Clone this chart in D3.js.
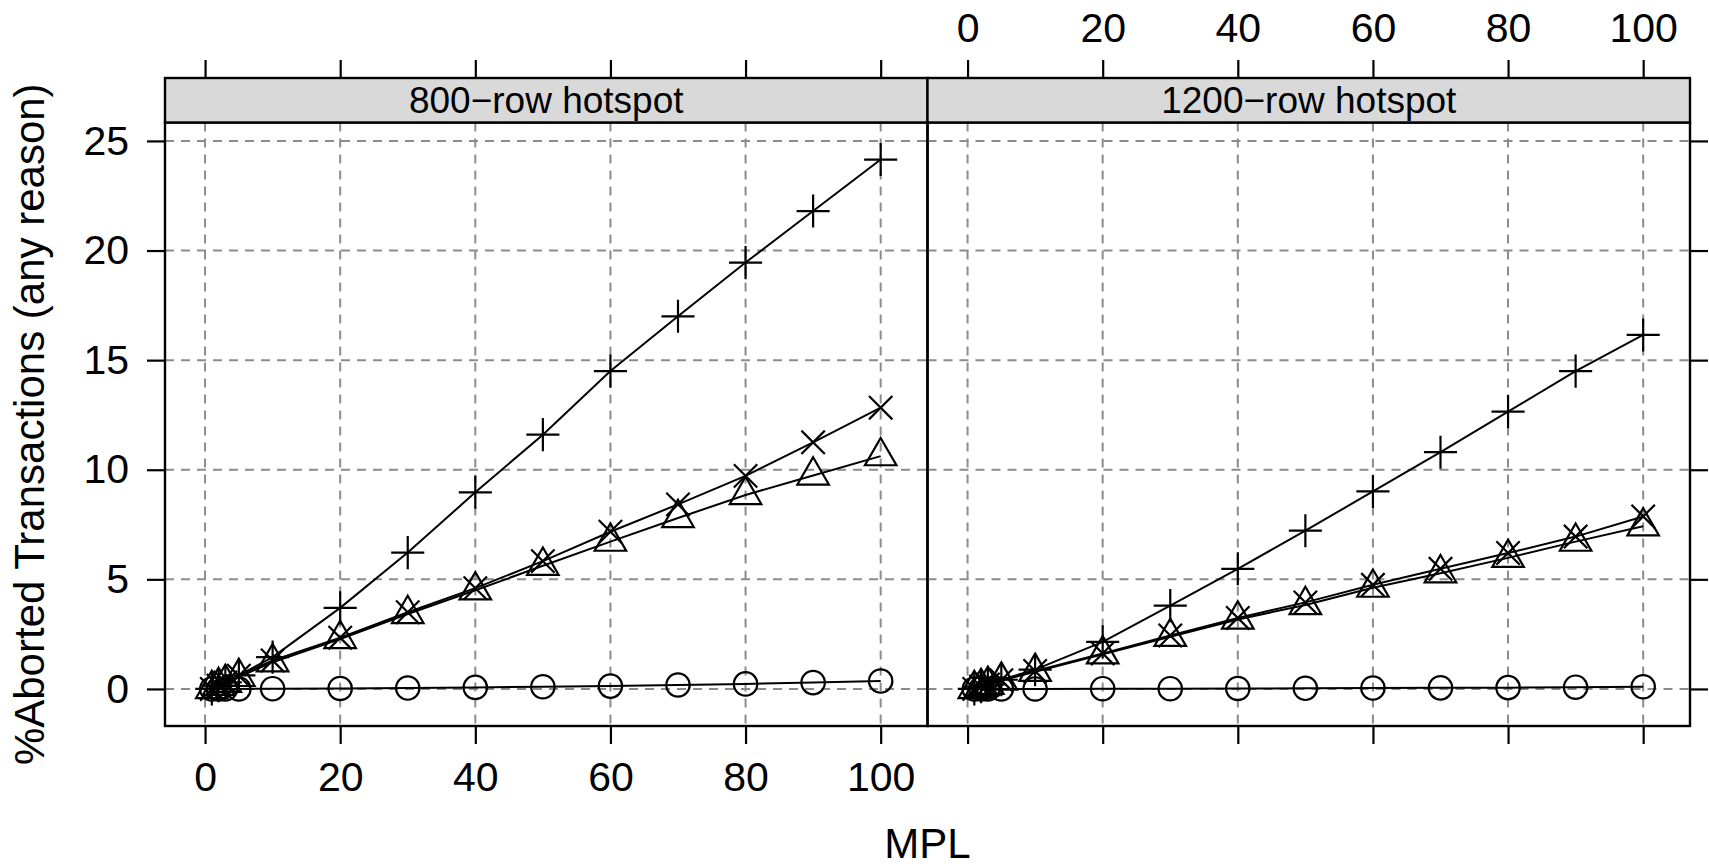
<!DOCTYPE html>
<html lang="en">
<head>
    <meta charset="UTF-8">
    <title>Aborted transactions by MPL</title>
    <script src="https://d3js.org/d3.v7.min.js"></script>
    <style>
        body {
            margin: 0;
            padding: 0;
            background-color: #fff;
            font-family: "Liberation Sans", Arial, Helvetica, sans-serif;
        }
        svg text {
            font-family: "Liberation Sans", Arial, Helvetica, sans-serif;
            fill: #000;
        }
        .grid line {
            stroke: #8c8c8c;
            stroke-width: 2;
            stroke-dasharray: 9 7;
        }
        .axis line {
            stroke: #000;
            stroke-width: 2.2;
        }
        .axis text {
            font-size: 41px;
        }
    </style>
</head>
<body>
    <div id="chart"></div>
    <script>
        // MPL values (x) shared by all series
        const mpl = [1, 2, 3, 5, 10, 20, 30, 40, 50, 60, 70, 80, 90, 100];

        // panel (strip) labels
        const panelNames = ["800\u2212row hotspot", "1200\u2212row hotspot"];

        // tick labels
        const xTicks = [0, 20, 40, 60, 80, 100];
        const yTicks = [0, 5, 10, 15, 20, 25];

        // % aborted transactions, 800-row hotspot
        const circle800 = [0, 0, 0, 0, 0.01, 0.02, 0.04, 0.07, 0.1, 0.13, 0.18, 0.23, 0.29, 0.36];
        const triangle800 = [0, 0.14, 0.28, 0.55, 1.22, 2.28, 3.42, 4.5, 5.62, 6.72, 7.8, 8.85, 9.74, 10.62];
        const plus800 = [0, 0.15, 0.3, 0.62, 1.45, 3.7, 6.22, 8.97, 11.6, 14.5, 17.0, 19.45, 21.8, 24.15];
        const cross800 = [0, 0.15, 0.3, 0.6, 1.3, 2.34, 3.5, 4.6, 5.83, 7.17, 8.42, 9.72, 11.25, 12.83];

        // % aborted transactions, 1200-row hotspot
        const circle1200 = [0, 0, 0, 0, 0, 0.01, 0.01, 0.02, 0.03, 0.04, 0.05, 0.06, 0.08, 0.1];
        const triangle1200 = [0, 0.09, 0.19, 0.38, 0.78, 1.58, 2.38, 3.17, 3.83, 4.62, 5.28, 5.98, 6.72, 7.42];
        const plus1200 = [0, 0.1, 0.2, 0.42, 0.88, 2.15, 3.8, 5.48, 7.22, 9.01, 10.8, 12.65, 14.5, 16.15];
        const cross1200 = [0, 0.1, 0.2, 0.4, 0.82, 1.62, 2.44, 3.24, 3.95, 4.75, 5.48, 6.2, 6.95, 7.87];

        const panelSeries = [
            [{sym: "circle", v: circle800}, {sym: "triangle", v: triangle800}, {sym: "plus", v: plus800}, {sym: "cross", v: cross800}],
            [{sym: "circle", v: circle1200}, {sym: "triangle", v: triangle1200}, {sym: "plus", v: plus1200}, {sym: "cross", v: cross1200}]
        ];

        // layout
        const W = 1709, H = 866;
        const left = 165, right = 1690;
        const stripTop = 78, stripBottom = 122.5, bottom = 726;
        const panelW = (right - left) / 2;
        const tickLen = 18, tickPad = 18;

        // lattice-style 7% padding of the data range
        function padded(ext) {
            const d = (ext[1] - ext[0]) * 0.07;
            return [ext[0] - d, ext[1] + d];
        }
        const allY = panelSeries.flat().flatMap(s => s.v);

        const y = d3.scaleLinear()
            .domain(padded(d3.extent(allY)))
            .range([bottom, stripBottom]);

        const xs = panelNames.map((n, i) => d3.scaleLinear()
            .domain(padded(d3.extent(mpl)))
            .range([left + i * panelW, left + (i + 1) * panelW]));

        const svg = d3.select("#chart").append("svg")
            .attr("width", W)
            .attr("height", H);

        // symbol paths (R pch 1, 2, 3, 4)
        const base = 11.7;
        function symbolPath(sym, cx, cy) {
            const p = d3.path();
            if (sym === "circle") {
                p.moveTo(cx + base, cy);
                p.arc(cx, cy, base, 0, 2 * Math.PI);
            } else if (sym === "triangle") {
                const r = 1.5551 * base, yc = 0.7776 * base, xc = 1.3468 * base;
                p.moveTo(cx, cy - r);
                p.lineTo(cx + xc, cy + yc);
                p.lineTo(cx - xc, cy + yc);
                p.closePath();
            } else if (sym === "plus") {
                const a = Math.SQRT2 * base;
                p.moveTo(cx - a, cy); p.lineTo(cx + a, cy);
                p.moveTo(cx, cy - a); p.lineTo(cx, cy + a);
            } else {
                p.moveTo(cx - base, cy - base); p.lineTo(cx + base, cy + base);
                p.moveTo(cx - base, cy + base); p.lineTo(cx + base, cy - base);
            }
            return p.toString();
        }

        panelNames.forEach((name, i) => {
            const x = xs[i];
            const x0 = left + i * panelW;
            const g = svg.append("g");

            // grid
            const grid = g.append("g").attr("class", "grid");
            grid.selectAll("line.v")
                .data(xTicks)
                .enter().append("line")
                .attr("x1", d => x(d)).attr("x2", d => x(d))
                .attr("y1", stripBottom).attr("y2", bottom);
            grid.selectAll("line.h")
                .data(yTicks)
                .enter().append("line")
                .attr("class", "h")
                .attr("x1", x0).attr("x2", x0 + panelW)
                .attr("y1", d => y(d)).attr("y2", d => y(d));

            // series lines and points
            const line = d3.line()
                .x((d, j) => x(mpl[j]))
                .y(d => y(d));
            panelSeries[i].forEach(s => {
                g.append("path")
                    .attr("d", line(s.v))
                    .attr("fill", "none")
                    .attr("stroke", "#000")
                    .attr("stroke-width", 2);
                g.selectAll(null)
                    .data(s.v)
                    .enter().append("path")
                    .attr("d", (d, j) => symbolPath(s.sym, x(mpl[j]), y(d)))
                    .attr("fill", "none")
                    .attr("stroke", "#000")
                    .attr("stroke-width", 2.2);
            });

            // panel border
            g.append("rect")
                .attr("x", x0).attr("y", stripBottom)
                .attr("width", panelW).attr("height", bottom - stripBottom)
                .attr("fill", "none").attr("stroke", "#000").attr("stroke-width", 2.4);

            // strip
            g.append("rect")
                .attr("x", x0).attr("y", stripTop)
                .attr("width", panelW).attr("height", stripBottom - stripTop)
                .attr("fill", "#d9d9d9").attr("stroke", "#000").attr("stroke-width", 2.4);
            g.append("text")
                .attr("x", x0 + panelW / 2)
                .attr("y", (stripTop + stripBottom) / 2 + 13)
                .attr("text-anchor", "middle")
                .attr("font-size", 37)
                .text(name);

            // x axes: labels at the bottom of the left panel, at the top of the right one
            const top = d3.axisTop(x).tickValues(xTicks).tickSize(tickLen).tickPadding(tickPad)
                .tickFormat(i === 1 ? d3.format("d") : () => "");
            const bot = d3.axisBottom(x).tickValues(xTicks).tickSize(tickLen).tickPadding(tickPad)
                .tickFormat(i === 0 ? d3.format("d") : () => "");
            g.append("g").attr("class", "axis")
                .attr("transform", `translate(0,${stripTop})`)
                .call(top)
                .call(a => a.select(".domain").remove());
            g.append("g").attr("class", "axis")
                .attr("transform", `translate(0,${bottom})`)
                .call(bot)
                .call(a => a.select(".domain").remove());
        });

        // y axes: labels left, ticks only on the right
        svg.append("g").attr("class", "axis")
            .attr("transform", `translate(${left},0)`)
            .call(d3.axisLeft(y).tickValues(yTicks).tickSize(tickLen).tickPadding(tickPad))
            .call(a => a.select(".domain").remove());
        svg.append("g").attr("class", "axis")
            .attr("transform", `translate(${right},0)`)
            .call(d3.axisRight(y).tickValues(yTicks).tickSize(tickLen).tickFormat(() => ""))
            .call(a => a.select(".domain").remove());

        // axis titles
        svg.append("text")
            .attr("x", (left + right) / 2)
            .attr("y", 858)
            .attr("text-anchor", "middle")
            .attr("font-size", 42)
            .text("MPL");
        svg.append("text")
            .attr("transform", `translate(44,${(stripBottom + bottom) / 2}) rotate(-90)`)
            .attr("text-anchor", "middle")
            .attr("font-size", 42)
            .text("%Aborted Transactions (any reason)");
    </script>
</body>
</html>
